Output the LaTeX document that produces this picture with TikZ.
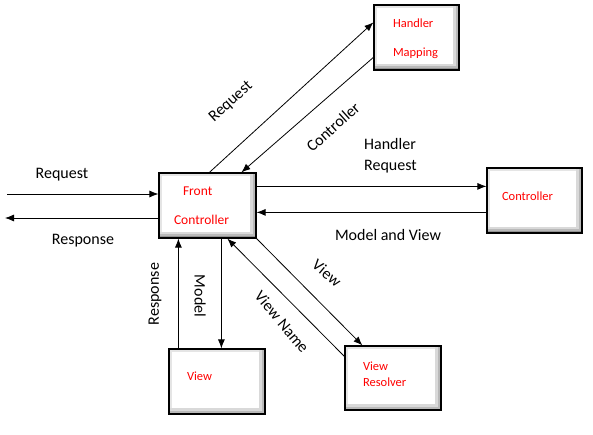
\documentclass[tikz,border=0pt]{standalone}
\usepackage{fontspec}
\setmainfont{Carlito}
\usepackage{tikz}
\usetikzlibrary{arrows.meta,positioning,calc}
\tikzstyle{box} = [rectangle, draw=black, line width=1.2pt, fill=white, text=red, inner sep=0pt, align=left,
    path picture={
        \draw[gray!20, line width=6pt] (path picture bounding box.south west) -- (path picture bounding box.north west) -- (path picture bounding box.north east);
        \draw[gray!30, line width=12pt] (path picture bounding box.south west) -- (path picture bounding box.south east) -- (path picture bounding box.north east);
        \draw[gray!55, line width=7pt] (path picture bounding box.south west) -- (path picture bounding box.south east) -- (path picture bounding box.north east);
        \draw[gray!85, line width=3pt] (path picture bounding box.south west) -- (path picture bounding box.south east) -- (path picture bounding box.north east);
    }]

\begin{document}
\begin{tikzpicture}[x=1pt, y=-1pt]
    \tikzstyle{flow} = [line width=0.8pt, -{Latex[length=9pt,width=7pt]}]
    \tikzstyle{lbl} = [font=\fontsize{16}{19}\selectfont, inner sep=0pt]
    \tikzstyle{small} = [font=\fontsize{12.5}{14}\selectfont]
    \useasboundingbox (0,0) rectangle (593,435);
    % boxes
    \node[box, minimum width=97pt, minimum height=65pt, text width=67pt, text height=0pt, text depth=19pt, font=\fontsize{13.5}{16}\selectfont] (fc) at (207.5,205.5) {\hspace*{9pt}Front\\[13pt]Controller};
    \node[box, small, minimum width=85pt, minimum height=65pt, text width=47pt, text height=0pt, text depth=19pt] (hm) at (416.5,37.5) {Handler\\[15pt]Mapping};
    \node[box, small, minimum width=95pt, minimum height=65pt, text width=65pt, text height=1pt, text depth=0pt] (ctrl) at (534.5,200.5) {Controller};
    \node[box, small, minimum width=96pt, minimum height=65pt, text width=60pt, text height=0pt, text depth=3pt] (view) at (217,381.5) {View};
    \node[box, small, minimum width=96pt, minimum height=64pt, text width=60pt, text height=0pt, text depth=16pt] (vr) at (393,378) {View\\[2pt]Resolver};
    % outside
    \coordinate (rin) at (7,194);
    \coordinate (rout) at (5,218);
    \draw[flow] (rin) -- (rin -| fc.west);
    \draw[flow] (rout -| fc.west) -- (rout);
    \node[lbl] (lreq) at (62,175) {Request};
    \node[lbl] (lres) at (83,241) {Response};
    % handler mapping
    \draw[flow] ([xshift=51pt]fc.north west) -- ([yshift=-18pt]hm.north west);
    \draw[flow] ([yshift=-53pt]hm.north west) -- ([xshift=83pt]fc.north west);
    \node[lbl, rotate=42] (lreq2) at (231,102) {Request};
    \node[lbl, rotate=42] (lctrl) at (333,127) {Controller};
    % controller
    \draw[flow] ([yshift=-14pt]fc.north east) -- ([yshift=-19pt]ctrl.north west);
    \draw[flow] ([yshift=-45pt]ctrl.north west) -- ([yshift=-40pt]fc.north east);
    \node[lbl, anchor=west, align=left] (lhr) at (364,155.5) {Handler\\[2pt]Request};
    \node[lbl] (lmv) at (388,235) {Model and View};
    % view
    \draw[flow] ([xshift=10pt]view.north west) -- ([xshift=20pt]fc.south west);
    \draw[flow] ([xshift=63pt]fc.south west) -- ([xshift=53pt]view.north west);
    \node[lbl, rotate=90] (lres2) at (155,294) {Response};
    \node[lbl, rotate=-90] (lmod) at (200,296) {Model};
    % view resolver
    \draw[flow] ([yshift=-11pt]vr.north west) -- ([xshift=69pt]fc.south west);
    \draw[flow] (fc.south east) -- ([xshift=18pt]vr.north west);
    \node[lbl, rotate=-40] (lview) at (327,273) {View};
    \node[lbl, rotate=-50] (lvn) at (282,322) {View Name};
\end{tikzpicture}
\end{document}
